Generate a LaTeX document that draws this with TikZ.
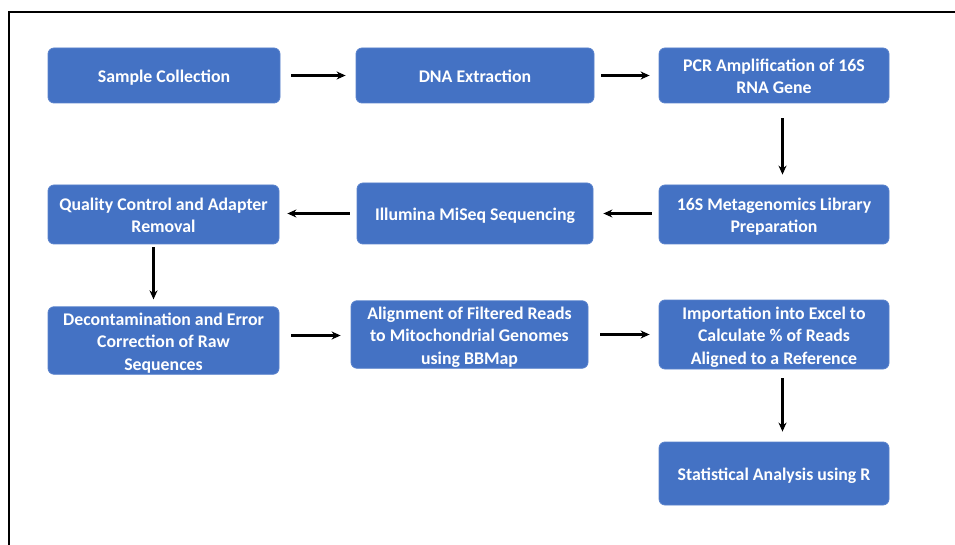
\documentclass[tikz,border=0pt]{standalone}
\usepackage{fontspec}
\setmainfont{Carlito}
\usetikzlibrary{arrows.meta,calc}
\definecolor{boxblue}{HTML}{4472C4}
\definecolor{boxedge}{HTML}{5A82CC}
\newcommand{\bt}[1]{\raisebox{-2.5pt}[\height][\depth]{\begin{tabular}{@{}c@{}}#1\end{tabular}}}
\tikzset{
  stepbox/.style={draw=boxedge, line width=0.8pt, fill=boxblue, rounded corners=6pt,
    text=white, font=\fontsize{17.8}{22.5}\selectfont\bfseries, align=center,
    inner sep=0pt},
  flow/.style={line width=2.2pt, -{Stealth[length=9pt,width=8pt]}}
}
\begin{document}
\begin{tikzpicture}[x=1pt,y=-1pt]
\useasboundingbox (0,0) rectangle (955,545);
\draw[line width=1.6pt] (9,545) -- (9,12) -- (955,12);

\node[stepbox, minimum width=232pt, minimum height=55pt] (sc) at (164,75.5) {\bt{Sample Collection}};
\node[stepbox, minimum width=238pt, minimum height=55pt] (dna) at (475,75.5) {\bt{DNA Extraction}};
\node[stepbox, minimum width=230pt, minimum height=55pt] (pcr) at (774,75.5) {\bt{PCR Amplification of 16S\\RNA Gene}};

\node[stepbox, minimum width=231pt, minimum height=59pt] (qc) at (163.5,214.5) {\bt{Quality Control and Adapter\\Removal}};
\node[stepbox, minimum width=236pt, minimum height=61pt] (ill) at (475,213.5) {\bt{Illumina MiSeq Sequencing}};
\node[stepbox, minimum width=230pt, minimum height=59pt] (lib) at (774,214.5) {\bt{16S Metagenomics Library\\Preparation}};

\node[stepbox, minimum width=231pt, minimum height=67pt] (dec) at (163.5,340.5) {\bt{Decontamination and Error\\Correction of Raw\\Sequences}};
\node[stepbox, minimum width=237pt, minimum height=67pt] (ali) at (469.5,334.5) {\bt{Alignment of Filtered Reads\\to Mitochondrial Genomes\\using BBMap}};
\node[stepbox, minimum width=230pt, minimum height=69pt] (imp) at (774,334.5) {\bt{Importation into Excel to\\Calculate \% of Reads\\Aligned to a Reference}};

\node[stepbox, minimum width=230pt, minimum height=63pt] (stat) at (774,473.5) {\bt{Statistical Analysis using R}};

\draw[flow, shorten <=11pt, shorten >=10pt] (sc.east) -- (dna.west);
\draw[flow, shorten <=7pt, shorten >=9pt] (dna.east) -- (pcr.west);
\draw[flow, shorten <=15pt, shorten >=10pt] ([xshift=8.5pt]pcr.south) -- ([xshift=8.5pt]lib.north);
\draw[flow, shorten <=7pt, shorten >=10pt] ([yshift=1pt]lib.west) -- ([yshift=1pt]ill.east |- lib.west);
\draw[flow, shorten <=7pt, shorten >=8pt] (ill.west) -- (qc.east |- ill.west);
\draw[flow, shorten <=3pt, shorten >=7pt] ([xshift=-10pt]qc.south) -- ([xshift=-10pt]dec.north);
\draw[flow, shorten <=12pt, shorten >=10pt] ($(dec.east)+(0,-5)$) -- ($(ali.west)+(0,1)$);
\draw[flow, shorten <=12pt, shorten >=9pt] (ali.east) -- (imp.west);
\draw[flow, shorten <=9pt, shorten >=10pt] ([xshift=8.5pt]imp.south) -- ([xshift=8.5pt]stat.north);
\end{tikzpicture}
\end{document}
